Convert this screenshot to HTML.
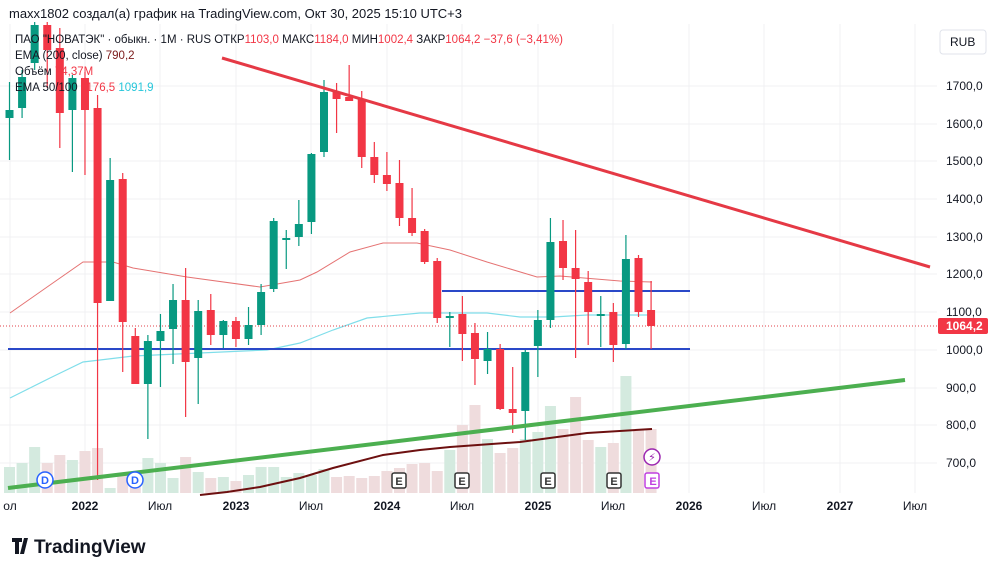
<!DOCTYPE html>
<html><head><meta charset="utf-8">
<style>
html,body{margin:0;padding:0;background:#fff;width:1000px;height:575px;overflow:hidden;font-family:"Liberation Sans","DejaVu Sans",sans-serif;}
svg{position:absolute;left:0;top:0}
</style></head><body>
<svg id="s" width="1000" height="575" viewBox="0 0 1000 575" font-family="Liberation Sans, DejaVu Sans, sans-serif">
<g id="grid" stroke="#f0f1f3" stroke-width="1"></g>
<g id="vol"></g>
<polyline fill="none" stroke="#e57373" stroke-width="1" points="10,313 50,285 83,262 113,262 133,268 187,277 260,287 300,280 317,272 350,252 383,243 417,243 450,250 487,262 537,277 560,276 620,281 652,282"/>
<polyline fill="none" stroke="#80deea" stroke-width="1.2" points="10,398 50,378 83,362 100,360 133,356 200,353 267,350 300,343 333,330 367,318 420,313 487,313 520,317 553,317 587,315 652,315"/>
<polyline fill="none" stroke="#6d1010" stroke-width="2" points="200,495 227,492 260,487 300,478 333,468 383,455 420,450 450,447 520,442 587,433 652,429"/>
<line x1="8" y1="349" x2="690" y2="349" stroke="#2a48c8" stroke-width="2"/>
<line x1="442" y1="291" x2="690" y2="291" stroke="#2a48c8" stroke-width="2"/>
<line x1="0" y1="326" x2="937" y2="326" stroke="#e0404a" stroke-width="1" stroke-dasharray="1,2"/>
<g id="cnd"></g>
<line x1="222" y1="58" x2="930" y2="267" stroke="#e53945" stroke-width="3"/>
<line x1="8" y1="488" x2="905" y2="380" stroke="#4caf50" stroke-width="4"/>
<g font-size="11" font-weight="bold" text-anchor="middle">
<circle cx="45" cy="480" r="8" fill="#fff" stroke="#2962ff" stroke-width="1.5"/><text x="45" y="484" fill="#2962ff">D</text>
<circle cx="135" cy="480" r="8" fill="#fff" stroke="#2962ff" stroke-width="1.5"/><text x="135" y="484" fill="#2962ff">D</text>
<rect x="392" y="473" width="14" height="15" fill="#fff" stroke="#333" stroke-width="1.5" rx="2"/><text x="399" y="485" fill="#333">E</text>
<rect x="455" y="473" width="14" height="15" fill="#fff" stroke="#333" stroke-width="1.5" rx="2"/><text x="462" y="485" fill="#333">E</text>
<rect x="541" y="473" width="14" height="15" fill="#fff" stroke="#333" stroke-width="1.5" rx="2"/><text x="548" y="485" fill="#333">E</text>
<rect x="607" y="473" width="14" height="15" fill="#fff" stroke="#333" stroke-width="1.5" rx="2"/><text x="614" y="485" fill="#333">E</text>
<rect x="645" y="473" width="14" height="15" fill="#fff" stroke="#c040e0" stroke-width="1.5" rx="2"/><text x="653" y="485" fill="#c040e0">E</text>
<circle cx="652" cy="457" r="8" fill="#fff" stroke="#9c27b0" stroke-width="1.5"/><text x="652" y="461" fill="#9c27b0">⚡</text>
</g>
<g font-size="12" fill="#131722" text-anchor="start">
<text x="946" y="90">1700,0</text><text x="946" y="128">1600,0</text><text x="946" y="165">1500,0</text>
<text x="946" y="203">1400,0</text><text x="946" y="241">1300,0</text><text x="946" y="278">1200,0</text>
<text x="946" y="316">1100,0</text><text x="946" y="354">1000,0</text><text x="946" y="392">900,0</text>
<text x="946" y="429">800,0</text><text x="946" y="467">700,0</text>
</g>
<rect x="938" y="318" width="50" height="16" fill="#f23645" rx="2"/>
<text x="946" y="330" font-size="12" fill="#fff" font-weight="bold">1064,2</text>
<rect x="940" y="30" width="46" height="24" fill="#fff" stroke="#e0e3eb" rx="3"/>
<text x="950" y="46" font-size="12" fill="#131722">RUB</text>
<g font-size="12" fill="#131722" text-anchor="middle">
<text x="10" y="510">ол</text><text x="85" y="510" font-weight="bold">2022</text><text x="160" y="510">Июл</text>
<text x="236" y="510" font-weight="bold">2023</text><text x="311" y="510">Июл</text><text x="387" y="510" font-weight="bold">2024</text>
<text x="462" y="510">Июл</text><text x="538" y="510" font-weight="bold">2025</text><text x="613" y="510">Июл</text>
<text x="689" y="510" font-weight="bold">2026</text><text x="764" y="510">Июл</text><text x="840" y="510" font-weight="bold">2027</text><text x="915" y="510">Июл</text>
</g>
<text x="9" y="18" font-size="13" fill="#131722">maxx1802 создал(а) график на TradingView.com, Окт 30, 2025 15:10 UTC+3</text>
<g font-size="11.5" fill="#131722">
<text x="15" y="43">ПАО "НОВАТЭК" · обыкн. · 1M · RUS  ОТКР<tspan fill="#f23645">1103,0</tspan>  МАКС<tspan fill="#f23645">1184,0</tspan>  МИН<tspan fill="#f23645">1002,4</tspan>  ЗАКР<tspan fill="#f23645">1064,2  −37,6 (−3,41%)</tspan></text>
<text x="15" y="59">EMA (200, close)  <tspan fill="#7b1a1a">790,2</tspan></text>
<text x="15" y="75">Объём  <tspan fill="#f23645">74,37M</tspan></text>
<text x="15" y="91">EMA 50/100  <tspan fill="#f23645">1176,5</tspan>  <tspan fill="#26c6da">1091,9</tspan></text>
</g>
<g transform="translate(12,538)">
<path d="M0 0h10v4h-3v12h-4v-12h-3z M12 0h4l-4 16h-4z" fill="#131722"/>
<text x="22" y="15" font-size="19" font-weight="bold" fill="#131722">TradingView</text>
</g>
</svg>
<script>
var NS="http://www.w3.org/2000/svg";
function el(p,t,a){var e=document.createElementNS(NS,t);for(var k in a)e.setAttribute(k,a[k]);document.getElementById(p).appendChild(e);}
[124,161,199,237,274,312,350,388,425,463,86].forEach(function(y){el("grid","line",{x1:0,y1:y,x2:937,y2:y});});
[10,85,160,236,311,387,462,538,613,689,764,840,915].forEach(function(x){el("grid","line",{x1:x,y1:24,x2:x,y2:493});});
var C=[[118,110,82,160],[108,77,70,118],[63,25,22,70],[25,50,22,88],[48,113,28,148],[110,78,75,172],[78,110,72,175],
[108,303,95,480],[301,180,158,301],[179,322,173,372],[336,384,328,370],[384,341,335,439],[341,331,314,387],[329,300,284,364],
[300,362,268,417],[358,311,300,404],[310,335,294,345],[335,321,320,348],[321,339,317,347],[339,325,307,345],[325,292,284,335],
[289,221,218,292],[240,238,230,269],[237,224,200,246],[222,154,153,234],[152,92,80,157],[92,99,83,133],[97,101,65,101],
[99,157,91,168],[157,175,142,183],[175,184,152,191],[183,218,160,226],[218,233,188,236],[231,262,229,264],[261,318,258,323],
[318,316,312,347],[314,334,296,361],[333,359,323,385],[361,349,332,374],[349,409,344,410],[409,413,367,433],[411,352,350,440],
[346,320,310,377],[320,242,218,328],[241,268,220,280],[268,279,230,358],[282,312,271,345],[316,314,296,347],[312,345,303,362],
[344,259,235,349],[258,312,255,317],[310,326,281,349]];
var V=[467,463,447,463,455,460,451,448,488,475,482,458,463,478,457,472,478,477,481,475,467,467,477,473,475,469,477,476,478,476,471,468,464,
463,471,450,425,405,439,453,448,439,432,406,429,397,440,447,443,376,430,429];
for(var i=0;i<C.length;i++){
 var x=9.5+12.58*i,c=C[i],up=c[1]<c[0]||(c[1]==c[0]&&i==22);
 var col=up?"#089981":"#f23645";
 var vy=V[i]||470;
 el("vol","rect",{x:x-5.5,y:vy,width:11,height:493-vy,fill:up?"#d4eadf":"#efdcdd"});
 el("cnd","line",{x1:x,y1:c[2],x2:x,y2:c[3],stroke:col,"stroke-width":1.2});
 var t=Math.min(c[0],c[1]),h=Math.max(2,Math.abs(c[1]-c[0]));
 el("cnd","rect",{x:x-4,y:t,width:8,height:h,fill:col});
}
</script>
</body></html>
